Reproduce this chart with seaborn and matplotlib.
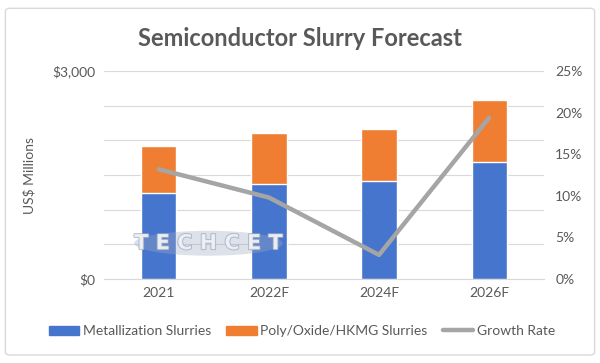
import numpy as np
import pandas as pd
import matplotlib
matplotlib.use('Agg')
import matplotlib.pyplot as plt
import matplotlib.patheffects as pe
from matplotlib.patches import Patch, FancyBboxPatch, Ellipse
from matplotlib.lines import Line2D
import seaborn as sns

# === Data ===
years = ['2021', '2022F', '2024F', '2026F']
metallization = [1240, 1366, 1409, 1692]
poly_oxide = [678, 735, 754, 890]
growth_rate = [13.2, 9.8, 2.9, 19.4]

df = pd.DataFrame({'Year': years, 'Metallization': metallization,
                   'PolyOxide': poly_oxide, 'Growth': growth_rate})
df['Total'] = df['Metallization'] + df['PolyOxide']

BLUE = '#4675CE'
ORANGE = '#EF7E32'
GRAY = '#A5A5A5'
TXT = '#595959'

sns.set_style('white')
plt.rcParams['font.family'] = ['Lato', 'DejaVu Sans']

fig = plt.figure(figsize=(6, 3.63), dpi=100)
ax = fig.add_axes([0.173, 0.2314, 0.734, 0.5725])

# stacked bars: total (orange) behind, metallization (blue) in front
sns.barplot(data=df, x='Year', y='Total', color=ORANGE, width=0.32,
            saturation=1, ax=ax, zorder=3)
sns.barplot(data=df, x='Year', y='Metallization', color=BLUE, width=0.32,
            saturation=1, ax=ax, zorder=3)

ax.set_ylim(0, 3000)
ax.set_yticks(np.arange(0, 3001, 500))
ax.set_yticklabels(['$0', '', '', '', '', '', '$3,000'])
ax.grid(axis='y', color='#D9D9D9', linewidth=0.8, zorder=0)
ax.set_xlabel('')
ax.set_ylabel('US$ Millions', color=TXT, fontsize=10, labelpad=12)
ax.tick_params(axis='both', length=0, colors=TXT, labelsize=10, pad=6)
for s in ax.spines.values():
    s.set_visible(False)
ax.spines['bottom'].set_visible(True)
ax.spines['bottom'].set_color('#D9D9D9')

# growth rate line on secondary axis
ax2 = ax.twinx()
sns.pointplot(data=df, x='Year', y='Growth', color=GRAY, markers='',
              linewidth=3.2, ax=ax2, zorder=4)
ax2.set_ylim(0, 25)
ax2.set_yticks(np.arange(0, 26, 5))
ax2.set_yticklabels([f'{v}%' for v in range(0, 26, 5)])
ax2.set_ylabel('')
ax2.set_xlabel('')
ax2.tick_params(axis='y', length=0, colors=TXT, labelsize=10, pad=8)
for s in ax2.spines.values():
    s.set_visible(False)
ax.set_xlim(-0.5, 3.5)
ax2.set_xlim(-0.5, 3.5)

# watermark
ax2.add_patch(Ellipse((0.45, 4.3), 1.35, 3.0, facecolor='#9FAAC0',
                      alpha=0.35, zorder=5, lw=0))
ax2.text(0.45, 4.3, 'T E C H C E T', ha='center', va='center', fontsize=15,
         fontweight='bold', color='#EEF1F6', alpha=0.85, zorder=6,
         family='DejaVu Sans',
         path_effects=[pe.withStroke(linewidth=1.2, foreground='#A3ACBD')])

fig.text(0.5, 0.895, 'Semiconductor Slurry Forecast', ha='center',
         va='center', fontsize=17, fontweight='bold', color=TXT)

handles = [Patch(color=BLUE, label='Metallization Slurries'),
           Patch(color=ORANGE, label='Poly/Oxide/HKMG Slurries'),
           Line2D([], [], color=GRAY, linewidth=3.2, label='Growth Rate')]
leg = fig.legend(handles=handles, loc='center', bbox_to_anchor=(0.503, 0.088),
                 ncol=3, frameon=False, fontsize=10, handlelength=2.2,
                 handletextpad=0.25, columnspacing=1.1, handleheight=0.6)
for t in leg.get_texts():
    t.set_color(TXT)

fig.patches.append(FancyBboxPatch((0.009, 0.022), 0.982, 0.955,
                                  boxstyle='round,pad=0,rounding_size=0.008',
                                  transform=fig.transFigure, fill=False,
                                  edgecolor='#D9D9D9', linewidth=1.0))

fig.savefig('out.png', dpi=100)
